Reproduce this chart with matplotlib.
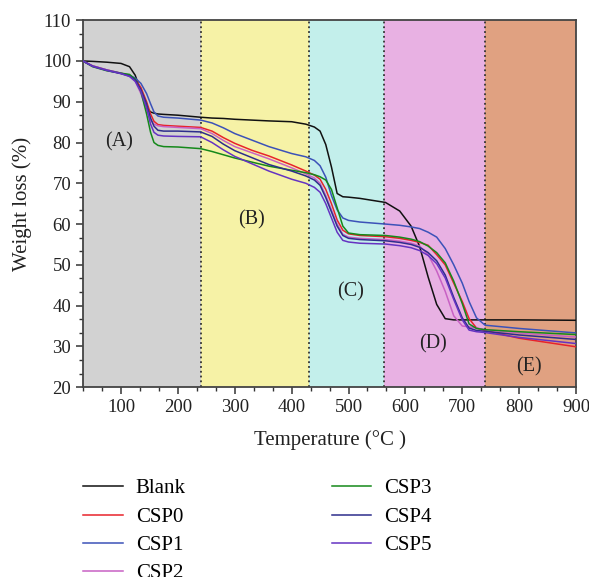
import matplotlib
matplotlib.use("Agg")
import matplotlib.pyplot as plt
from matplotlib.ticker import MultipleLocator

plt.rcParams["font.family"] = ["Liberation Serif", "DejaVu Serif"]

# temperature grid shared by all curves (deg C)
temps = [33, 50, 75, 100, 115, 125, 135, 145, 152, 158, 165, 175, 200, 240, 260,
         280, 300, 330, 360, 400, 425, 440, 450, 460, 470, 480, 490, 500, 520, 565,
         590, 610, 625, 640, 655, 670, 685, 700, 712, 725, 740, 800, 900]

blank = [100.0, 99.9, 99.7, 99.4, 98.6, 96.5, 92.5, 88.5, 87.5, 87.2, 87.0, 86.9, 86.7, 86.2, 86.0,
         85.9, 85.7, 85.5, 85.3, 85.1, 84.5, 83.8, 82.8, 79.5, 74.0, 67.5, 66.7, 66.6, 66.3, 65.3,
         63.2, 59.5, 54.5, 47.0, 40.3, 36.8, 36.5, 36.5, 36.5, 36.5, 36.5, 36.5, 36.4]
csp0 = [100.0, 98.8, 97.8, 97.0, 96.4, 95.5, 93.5, 90.0, 87.0, 85.2, 84.4, 84.2, 84.0, 83.7, 82.8,
        81.2, 79.8, 78.1, 76.7, 74.5, 73.0, 72.0, 71.0, 68.5, 65.0, 61.0, 58.5, 57.6, 57.2, 56.9,
        56.5, 56.0, 55.5, 54.8, 52.5, 50.0, 45.5, 41.0, 36.8, 34.5, 33.9, 32.0, 29.9]
csp1 = [100.0, 98.8, 97.8, 97.0, 96.5, 95.8, 94.5, 92.0, 89.5, 87.5, 86.5, 86.2, 86.0, 85.5, 84.8,
        83.6, 82.2, 80.6, 79.0, 77.3, 76.5, 75.6, 74.3, 71.5, 67.0, 63.5, 61.5, 60.9, 60.5, 60.0,
        59.7, 59.3, 58.9, 58.0, 56.8, 54.0, 50.0, 45.5, 41.0, 37.0, 35.2, 34.4, 33.3]
csp2 = [100.0, 98.8, 97.8, 97.0, 96.3, 95.0, 92.0, 88.0, 85.5, 84.5, 84.1, 83.9, 83.7, 83.4, 82.2,
        80.5, 79.0, 77.5, 76.0, 73.8, 72.3, 71.3, 70.0, 67.0, 63.5, 60.0, 57.5, 56.8, 56.5, 56.2,
        55.8, 55.3, 54.6, 52.5, 48.5, 43.5, 37.5, 35.0, 34.8, 34.5, 34.1, 33.3, 32.3]
csp3 = [100.0, 98.6, 97.6, 97.0, 96.7, 95.5, 92.5, 87.0, 82.5, 80.0, 79.3, 79.0, 78.9, 78.5, 77.8,
        77.0, 76.2, 75.2, 74.2, 73.2, 72.6, 72.1, 71.6, 70.8, 68.5, 64.0, 59.5, 57.8, 57.4, 57.2,
        56.8, 56.3, 55.7, 54.6, 53.0, 50.5, 46.0, 40.5, 35.5, 34.4, 34.1, 33.6, 32.9]
csp4 = [100.0, 98.7, 97.7, 96.9, 96.3, 95.3, 93.0, 89.5, 86.0, 84.0, 83.0, 82.8, 82.8, 82.6, 81.5,
        79.6, 78.0, 76.3, 74.6, 73.0, 71.8, 70.8, 69.5, 66.5, 63.0, 59.5, 57.2, 56.5, 56.2, 55.9,
        55.5, 55.0, 54.3, 53.0, 51.0, 47.5, 42.0, 37.0, 34.5, 33.9, 33.7, 32.8, 31.7]
csp5 = [100.0, 98.7, 97.7, 96.9, 96.2, 95.0, 92.5, 88.5, 84.5, 82.5, 81.8, 81.6, 81.5, 81.4, 80.0,
        78.2, 76.6, 74.8, 73.0, 71.0, 70.0, 69.0, 67.8, 65.0, 61.5, 58.0, 56.0, 55.6, 55.3, 55.1,
        54.7, 54.2, 53.5, 52.3, 50.3, 46.8, 41.5, 36.5, 34.0, 33.6, 33.4, 32.2, 30.7]

names = ["Blank", "CSP0", "CSP1", "CSP2", "CSP3", "CSP4", "CSP5"]
series = [blank, csp0, csp1, csp2, csp3, csp4, csp5]
colors = ["#111111", "#e8232b", "#3c52b8", "#c861c4", "#15891a", "#2e2e8c", "#6533c2"]

# stage boundaries and shading
bounds = [33.3, 240, 430, 563, 740, 900]
region_colors = ["#d2d2d2", "#f6f2a6", "#c3efeb", "#e8b1e3", "#e0a181"]
region_labels = ["(A)", "(B)", "(C)", "(D)", "(E)"]
label_pos = [(96, 80.2), (329, 61.0), (503, 43.4), (648, 30.5), (817, 25.0)]

fig = plt.figure(figsize=(5.89, 5.77), dpi=100)
ax = fig.add_axes([0.141, 0.329, 0.837, 0.636])

for i, c in enumerate(region_colors):
    ax.axvspan(bounds[i], bounds[i + 1], color=c, lw=0, zorder=0)
for b in bounds[1:-1]:
    ax.axvline(b, color="#333333", ls=":", lw=1.3, zorder=1)

for name, ys, c in zip(names, series, colors):
    ax.plot(temps, ys, color=c, lw=1.1, label=name, zorder=3)

for lab, (x, y) in zip(region_labels, label_pos):
    ax.text(x, y, lab, fontsize=14.5, ha="center", va="center", color="#222222")

ax.set_xlim(33.3, 900)
ax.set_ylim(20, 110)
ax.xaxis.set_major_locator(MultipleLocator(100))
ax.xaxis.set_minor_locator(MultipleLocator(100 / 3))
ax.yaxis.set_major_locator(MultipleLocator(10))
ax.yaxis.set_minor_locator(MultipleLocator(10 / 3))
ax.tick_params(which="both", direction="out", colors="#333333", labelcolor="#222222",
               labelsize=13.5, top=False, right=False)
ax.tick_params(which="major", length=5, width=1.1)
ax.tick_params(which="minor", length=3, width=1.0)
for s in ax.spines.values():
    s.set_color("#444444")
    s.set_linewidth(1.3)

ax.set_xlabel("Temperature (°C )", fontsize=15, color="#222222", labelpad=10)
ax.set_ylabel("Weight loss (%)", fontsize=15, color="#222222", labelpad=8)

fig.legend(loc="upper left", bbox_to_anchor=(0.141, 0.170), ncol=2, frameon=False,
           fontsize=15, handlelength=1.9, handletextpad=0.63, labelspacing=0.42,
           columnspacing=7.0, borderpad=0, borderaxespad=0)

fig.savefig("out.png", dpi=100)
